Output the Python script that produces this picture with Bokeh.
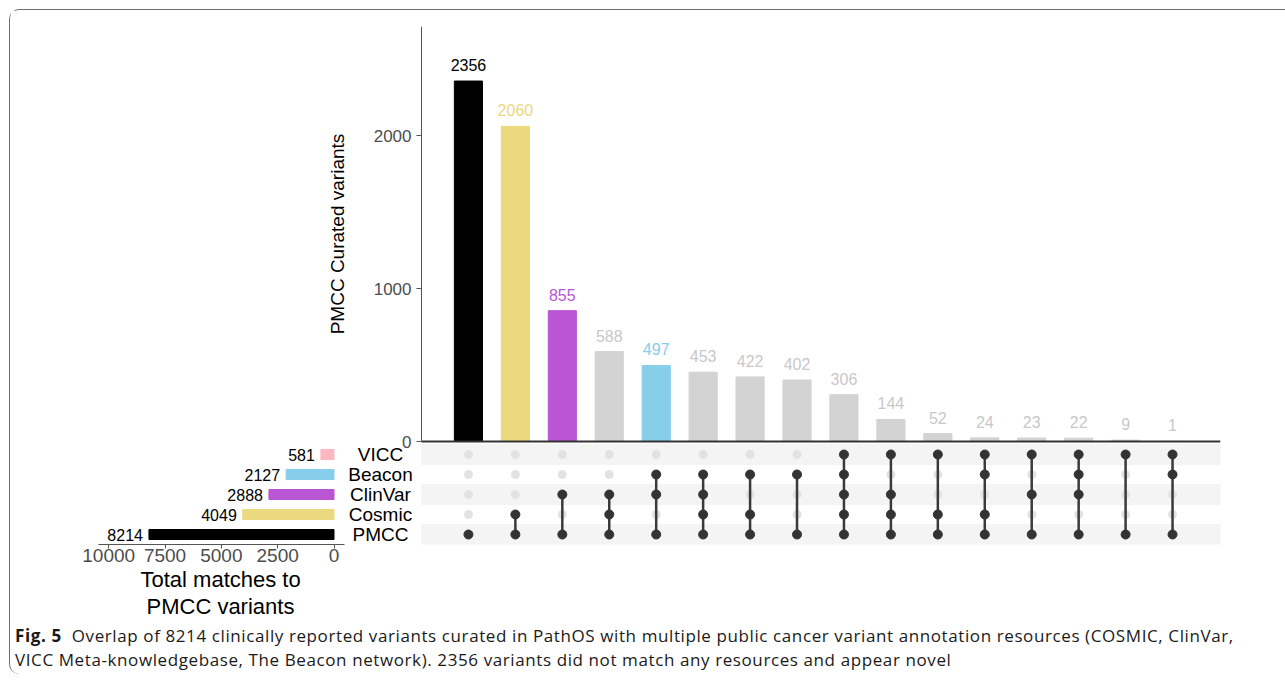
from bokeh.plotting import figure
from bokeh.models import Range1d, Div, FixedTicker, LinearAxis, Title
from bokeh.layouts import column
from bokeh.embed import file_html
from bokeh.resources import INLINE
from bokeh.core.properties import value

# ---------------- data ----------------
sets = ["PMCC", "Cosmic", "ClinVar", "Beacon", "VICC"]          # bottom -> top
set_sizes = [8214, 4049, 2888, 2127, 581]
set_colors = ["#000000", "#EBD97F", "#BA55D3", "#87CEEB", "#FFB6C1"]

inter_counts = [2356, 2060, 855, 588, 497, 453, 422, 402, 306, 144, 52, 24, 23, 22, 9, 1]
inter_members = [
    ["PMCC"],
    ["Cosmic", "PMCC"],
    ["ClinVar", "PMCC"],
    ["ClinVar", "Cosmic", "PMCC"],
    ["Beacon", "ClinVar", "PMCC"],
    ["Beacon", "ClinVar", "Cosmic", "PMCC"],
    ["Beacon", "Cosmic", "PMCC"],
    ["Beacon", "PMCC"],
    ["VICC", "Beacon", "ClinVar", "Cosmic", "PMCC"],
    ["VICC", "ClinVar", "Cosmic", "PMCC"],
    ["VICC", "Cosmic", "PMCC"],
    ["VICC", "Beacon", "Cosmic", "PMCC"],
    ["VICC", "ClinVar", "PMCC"],
    ["VICC", "Beacon", "ClinVar", "PMCC"],
    ["VICC", "PMCC"],
    ["VICC", "Beacon", "PMCC"],
]
inter_colors = ["#000000", "#EBD97F", "#BA55D3", "#D3D3D3", "#87CEEB"] + ["#D3D3D3"] * 11
inter_label_colors = ["#000000", "#EBD97F", "#BA55D3", "#C8C8C8", "#87CEEB"] + ["#C8C8C8"] * 11

y_ticks = [0, 1000, 2000]
x_ticks_sets = [0, 2500, 5000, 7500, 10000]
shaded_rows = ["VICC", "ClinVar", "PMCC"]
set_axis_title = ["Total matches to", "PMCC variants"]

FONT = value("Liberation Sans")
FONTNAME = "Liberation Sans"

# ---------------- layout geometry (page pixels) ----------------
FIG_X0, FIG_Y0 = 10, 10
FIG_W, FIG_H = 1275, 614
FRAME_L, FRAME_R, FRAME_T, FRAME_B = 19, 1220, 26, 544
BASE_Y, PX_PER_COUNT = 441.0, 0.153          # intersection bars
COL0_X, COL_W = 421.0, 46.94                 # intersection columns
ROW0_Y, ROW_H = 534.0, 20.0                  # matrix rows
SET0_X, PX_PER_SET = 333.5, 0.02253          # set-size bars
SET_AXIS_L, SET_AXIS_R = 98, 344
LABEL_X_PX = 380
SET_TITLE_LEFT = [140, 146]                  # left edges of the two title lines

x_main = Range1d((FRAME_L - COL0_X) / COL_W, (FRAME_R - COL0_X) / COL_W)
y_main = Range1d((BASE_Y - FRAME_B) / PX_PER_COUNT, (BASE_Y - FRAME_T) / PX_PER_COUNT)

p = figure(width=FIG_W, height=FIG_H, x_range=x_main, y_range=y_main,
           x_axis_location=None, y_axis_location=None,
           output_backend="svg", toolbar_location=None,
           min_border_left=FRAME_L - FIG_X0, min_border_right=FIG_X0 + FIG_W - FRAME_R,
           min_border_top=FRAME_T - FIG_Y0, min_border_bottom=FIG_Y0 + FIG_H - FRAME_B)
p.extra_y_ranges = {"matrix": Range1d(-(FRAME_B - ROW0_Y) / ROW_H, (ROW0_Y - FRAME_T) / ROW_H)}
p.extra_x_ranges = {"setsize": Range1d((SET0_X - FRAME_L) / PX_PER_SET, (SET0_X - FRAME_R) / PX_PER_SET)}
p.grid.visible = False
p.outline_line_color = None

# ---------------- intersection bars ----------------
n = len(inter_counts)
xs = list(range(1, n + 1))
p.vbar(x=xs, top=inter_counts, width=0.6, color=inter_colors)
p.text(x=xs, y=inter_counts, text=[str(c) for c in inter_counts],
       text_align="center", text_baseline="alphabetic", y_offset=-16,
       text_font_size="16px", text_color=inter_label_colors, text_font=FONT)

ya = LinearAxis(fixed_location=0, bounds=(0, y_main.end), ticker=FixedTicker(ticks=y_ticks))
ya.minor_tick_line_color = None
ya.major_tick_in = 0
ya.major_tick_out = 5
ya.major_tick_line_color = "#555555"
ya.axis_line_color = "#555555"
ya.major_label_text_font_size = "17px"
ya.major_label_text_color = "#4d4d4d"
ya.major_label_text_font = FONTNAME
ya.major_label_standoff = 5
ya.axis_label = "PMCC Curated variants"
ya.axis_label_text_font = FONTNAME
ya.axis_label_text_font_size = "19px"
ya.axis_label_text_font_style = "normal"
ya.axis_label_text_color = "#000000"
ya.axis_label_standoff = 23
p.add_layout(ya, "left")

base = LinearAxis(fixed_location=0, bounds=(0, x_main.end), ticker=FixedTicker(ticks=[]))
base.axis_line_width = 2
base.axis_line_color = "#333333"
base.major_label_text_font_size = "0px"
base.major_tick_line_color = None
base.minor_tick_line_color = None
p.add_layout(base, "below")

# ---------------- matrix ----------------
row_of = {s: i for i, s in enumerate(sets)}
p.hbar(y=[row_of[s] for s in shaded_rows], left=0, right=x_main.end, height=1,
       color="#F4F4F4", y_range_name="matrix")

on_x, on_y, off_x, off_y = [], [], [], []
seg_x, seg_y0, seg_y1 = [], [], []
for i, mem in zip(xs, inter_members):
    for s in sets:
        if s in mem:
            on_x.append(i); on_y.append(row_of[s])
        else:
            off_x.append(i); off_y.append(row_of[s])
    idx = [row_of[m] for m in mem]
    if len(idx) > 1:
        seg_x.append(i); seg_y0.append(min(idx)); seg_y1.append(max(idx))
p.scatter(x=off_x, y=off_y, size=8, color="#E2E2E2", y_range_name="matrix")
p.segment(x0=seg_x, y0=seg_y0, x1=seg_x, y1=seg_y1, line_width=2.5,
          line_color="#3a3a3a", y_range_name="matrix")
p.scatter(x=on_x, y=on_y, size=9, color="#333333", y_range_name="matrix")

# ---------------- set size bars ----------------
rows = [row_of[s] for s in sets]
p.hbar(y=rows, left=0, right=set_sizes, height=0.5, color=set_colors,
       x_range_name="setsize", y_range_name="matrix")
p.text(x=set_sizes, y=rows, text=[str(s) for s in set_sizes], x_offset=-6,
       text_align="right", text_baseline="middle", text_font_size="16px",
       text_color="#000000", text_font=FONT, x_range_name="setsize", y_range_name="matrix")
label_x = (SET0_X - LABEL_X_PX) / PX_PER_SET
p.text(x=[label_x] * len(sets), y=rows, text=sets, text_align="center",
       text_baseline="middle", text_font_size="19px", text_color="#000000", text_font=FONT,
       x_range_name="setsize", y_range_name="matrix")

xb = LinearAxis(x_range_name="setsize", ticker=FixedTicker(ticks=x_ticks_sets),
                bounds=((SET0_X - SET_AXIS_R) / PX_PER_SET, (SET0_X - SET_AXIS_L) / PX_PER_SET))
xb.minor_tick_line_color = None
xb.major_tick_in = 0
xb.major_tick_out = 4
xb.major_tick_line_color = "#555555"
xb.axis_line_color = "#555555"
xb.major_label_text_font_size = "19px"
xb.major_label_text_color = "#4d4d4d"
xb.major_label_text_font = FONTNAME
xb.major_label_standoff = 0
p.add_layout(xb, "below")

for line, left in zip(set_axis_title, SET_TITLE_LEFT):
    t = Title(text=line, align="left", offset=left - FRAME_L, standoff=0,
              text_font=FONTNAME, text_font_size="22px", text_font_style="normal",
              text_color="#000000")
    p.add_layout(t, "below")

# ---------------- caption ----------------
cap_html = (
    "<div style=\"font-family:'Open Sans'; font-size:17px; letter-spacing:0.6px; line-height:24px; "
    "color:#1a1a1a; padding-left:5px; white-space:nowrap;\">"
    "<b>Fig. 5</b>&nbsp; Overlap of 8214 clinically reported variants curated in PathOS with multiple "
    "public cancer variant annotation resources (COSMIC, ClinVar,<br>"
    "VICC Meta-knowledgebase, The Beacon network). 2356 variants did not match any resources and appear novel"
    "</div>"
)
cap = Div(text=cap_html, width=FIG_W, height=50, margin=(0, 0, 0, 0))

layout = column(p, cap, margin=(9, 0, 0, 9),
                styles={"border-top": "1px solid #6e6e6e", "border-left": "1px solid #6e6e6e",
                        "border-top-left-radius": "10px", "border-bottom-left-radius": "10px"})

open("out.html", "w").write(file_html(layout, INLINE))
